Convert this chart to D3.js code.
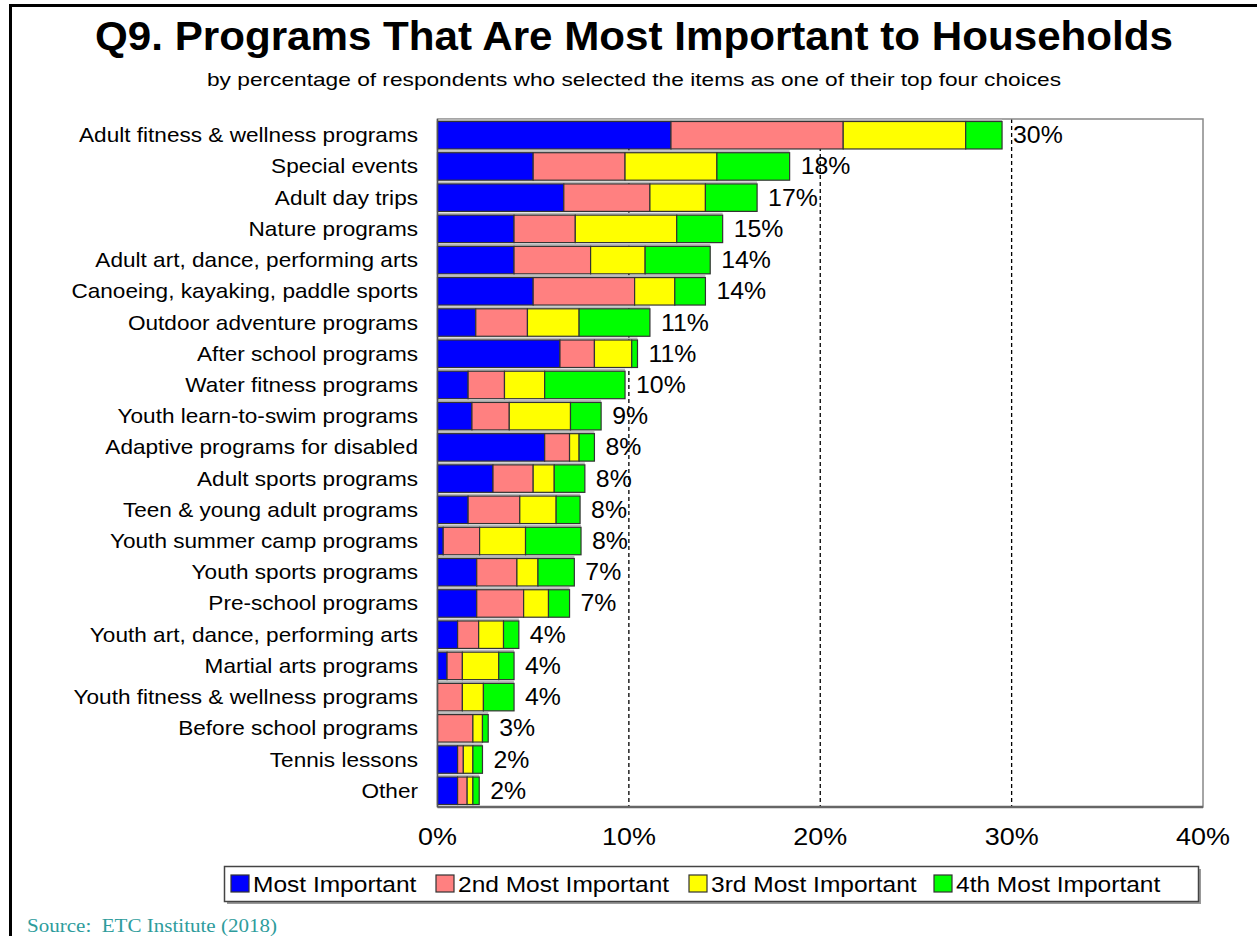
<!DOCTYPE html>
<html>
<head>
<meta charset="utf-8">
<script src="https://cdn.jsdelivr.net/npm/d3@7"></script>
<style>
  html, body { margin: 0; padding: 0; background: #fff; }
  svg { display: block; }
  text { white-space: pre; }
</style>
</head>
<body>
<svg id="chart" width="1257" height="936"></svg>
<script>
// ---------------- DATA ----------------
const categories = [
  "Adult fitness & wellness programs",
  "Special events",
  "Adult day trips",
  "Nature programs",
  "Adult art, dance, performing arts",
  "Canoeing, kayaking, paddle sports",
  "Outdoor adventure programs",
  "After school programs",
  "Water fitness programs",
  "Youth learn-to-swim programs",
  "Adaptive programs for disabled",
  "Adult sports programs",
  "Teen & young adult programs",
  "Youth summer camp programs",
  "Youth sports programs",
  "Pre-school programs",
  "Youth art, dance, performing arts",
  "Martial arts programs",
  "Youth fitness & wellness programs",
  "Before school programs",
  "Tennis lessons",
  "Other"
];
const seriesNames = ["Most Important", "2nd Most Important", "3rd Most Important", "4th Most Important"];
const mostImportant   = [12.2, 5.0, 6.6, 4.0, 4.0, 5.0, 2.0, 6.4, 1.6, 1.8, 5.6, 2.9, 1.6, 0.3, 2.05, 2.05, 1.05, 0.5, 0.0, 0.0, 1.05, 1.05];
const secondImportant = [9.0, 4.8, 4.5, 3.2, 4.0, 5.3, 2.7, 1.8, 1.9, 1.95, 1.3, 2.1, 2.7, 1.9, 2.1, 2.45, 1.1, 0.8, 1.3, 1.85, 0.3, 0.5];
const thirdImportant  = [6.4, 4.8, 2.9, 5.3, 2.85, 2.1, 2.7, 1.95, 2.1, 3.2, 0.5, 1.1, 1.9, 2.4, 1.1, 1.3, 1.3, 1.9, 1.1, 0.5, 0.5, 0.3];
const fourthImportant = [1.9, 3.8, 2.7, 2.4, 3.4, 1.6, 3.7, 0.3, 4.2, 1.6, 0.8, 1.6, 1.25, 2.9, 1.9, 1.1, 0.8, 0.8, 1.6, 0.3, 0.5, 0.33];
const totalLabels = ["30%", "18%", "17%", "15%", "14%", "14%", "11%", "11%", "10%", "9%", "8%", "8%", "8%", "8%", "7%", "7%", "4%", "4%", "4%", "3%", "2%", "2%"];
const tickValues = [0, 10, 20, 30, 40];
const tickLabels = ["0%", "10%", "20%", "30%", "40%"];
const seriesColors = ["#0000FF", "#FF8080", "#FFFF00", "#00FF00"];
const titleText = "Q9. Programs That Are Most Important to Households";
const subtitleText = "by percentage of respondents who selected the items as one of their top four choices";
const sourceText = "Source:  ETC Institute (2018)";

// ---------------- BUILD ----------------
const rows = categories.map((c, i) => ({
  cat: c,
  s0: mostImportant[i], s1: secondImportant[i], s2: thirdImportant[i], s3: fourthImportant[i],
  label: totalLabels[i]
}));
const keys = ["s0", "s1", "s2", "s3"];
const stacked = d3.stack().keys(keys)(rows);

const svg = d3.select("#chart");
const FONT = "'Liberation Sans', Arial, sans-serif";

const plot = { left: 437.5, right: 1203, top: 119, bottom: 807 };
const x = d3.scaleLinear().domain([0, 40]).range([plot.left, plot.right]);
const y = d3.scaleBand().domain(categories).range([plot.top, plot.bottom])
  .paddingInner(0.12).paddingOuter(0.08);

// helper: horizontally stretched text
function sText(g, txt, px, py, opts) {
  return g.append("text")
    .attr("transform", `translate(${px},${py}) scale(${opts.sx || 1},1)`)
    .attr("font-family", opts.family || FONT)
    .attr("font-size", opts.size)
    .attr("font-weight", opts.weight || "normal")
    .attr("text-anchor", opts.anchor || "start")
    .attr("fill", opts.fill || "#000")
    .text(txt);
}

// outer border (top + left)
svg.append("path")
  .attr("d", "M10.5,936 L10.5,5.5 L1257,5.5")
  .attr("fill", "none").attr("stroke", "#000").attr("stroke-width", 3);

// title / subtitle
svg.append("text")
  .attr("x", 95).attr("y", 50)
  .attr("font-family", FONT).attr("font-size", 40).attr("font-weight", "bold")
  .attr("textLength", 1078).attr("lengthAdjust", "spacingAndGlyphs")
  .text(titleText);
svg.append("text")
  .attr("x", 207).attr("y", 86)
  .attr("font-family", FONT).attr("font-size", 19)
  .attr("textLength", 854).attr("lengthAdjust", "spacingAndGlyphs")
  .text(subtitleText);

// gridlines (dashed)
svg.append("g").selectAll("line")
  .data(tickValues.filter(v => v > 0 && v < 40))
  .join("line")
  .attr("x1", d => x(d)).attr("x2", d => x(d))
  .attr("y1", plot.top).attr("y2", plot.bottom)
  .attr("stroke", "#000").attr("stroke-width", 1.3)
  .attr("stroke-dasharray", "4,3");

// plot frame
svg.append("rect")
  .attr("x", plot.left).attr("y", plot.top)
  .attr("width", plot.right - plot.left).attr("height", plot.bottom - plot.top)
  .attr("fill", "none").attr("stroke", "#888").attr("stroke-width", 1.5);
svg.append("line")
  .attr("x1", plot.left).attr("x2", plot.right)
  .attr("y1", plot.bottom).attr("y2", plot.bottom)
  .attr("stroke", "#666").attr("stroke-width", 2.5);

// bar shadows (light gray line above each bar)
svg.append("g").selectAll("rect")
  .data(rows)
  .join("rect")
  .attr("x", x(0))
  .attr("y", d => y(d.cat) - 2.5)
  .attr("width", d => x(d.s0 + d.s1 + d.s2 + d.s3) - x(0))
  .attr("height", 2)
  .attr("fill", "#b8b8b8");

// bars
const layer = svg.append("g").selectAll("g")
  .data(stacked)
  .join("g")
  .attr("fill", (d, i) => seriesColors[i]);
layer.selectAll("rect")
  .data(d => d.filter(p => p[1] - p[0] > 0).map(p => ({ p, cat: p.data.cat })))
  .join("rect")
  .attr("x", d => x(d.p[0]))
  .attr("y", d => y(d.cat))
  .attr("width", d => x(d.p[1]) - x(d.p[0]))
  .attr("height", y.bandwidth())
  .attr("stroke", "#333")
  .attr("stroke-width", 1.2);

// left axis line
svg.append("line")
  .attr("x1", plot.left).attr("x2", plot.left)
  .attr("y1", plot.top).attr("y2", plot.bottom)
  .attr("stroke", "#555").attr("stroke-width", 1.5);

// category labels
const catG = svg.append("g");
rows.forEach(d => {
  sText(catG, d.cat, 418, y(d.cat) + y.bandwidth() / 2 + 7, { size: 20, sx: 1.13, anchor: "end" });
});

// value labels
const valG = svg.append("g");
rows.forEach(d => {
  const tot = d.s0 + d.s1 + d.s2 + d.s3;
  sText(valG, d.label, x(tot) + 11, y(d.cat) + y.bandwidth() / 2 + 8, { size: 23, sx: 1.08 });
});

// x tick labels
const tickG = svg.append("g");
tickValues.forEach((v, i) => {
  sText(tickG, tickLabels[i], x(v), 845, { size: 24.5, sx: 1.1, anchor: "middle" });
});

// legend
const lg = svg.append("g");
lg.append("rect").attr("x", 227).attr("y", 869).attr("width", 974).attr("height", 35).attr("fill", "#999");
lg.append("rect").attr("x", 224.5).attr("y", 866.5).attr("width", 974).attr("height", 35)
  .attr("fill", "#fff").attr("stroke", "#444").attr("stroke-width", 1.5);
const legX = [231, 436, 689, 934];
seriesNames.forEach((n, i) => {
  lg.append("rect").attr("x", legX[i]).attr("y", 875).attr("width", 18).attr("height", 17)
    .attr("fill", seriesColors[i]).attr("stroke", "#333").attr("stroke-width", 1.2);
  sText(lg, n, legX[i] + 22, 892, { size: 21.5, sx: 1.14 });
});

// source
svg.append("text")
  .attr("x", 27).attr("y", 932)
  .attr("font-family", "'Liberation Serif', 'Times New Roman', serif")
  .attr("font-size", 19.5).attr("fill", "#2E9C9C")
  .attr("textLength", 250).attr("lengthAdjust", "spacingAndGlyphs")
  .text(sourceText);
</script>
</body>
</html>
